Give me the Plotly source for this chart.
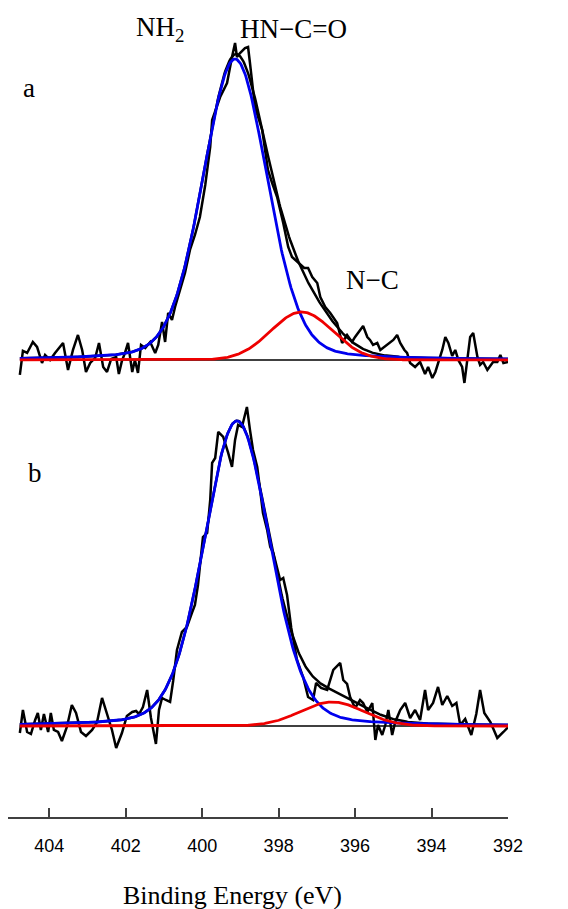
import numpy as np
import plotly.graph_objects as go

# N 1s spectra, background subtracted: binding energy (eV) and intensity (a.u.)
energy_a = [404.77, 404.69, 404.58, 404.43, 404.32, 404.19, 404.11, 403.98, 403.85, 403.64,
            403.51, 403.38, 403.25, 403.14, 403.04, 402.93, 402.80, 402.70, 402.59, 402.49,
            402.38, 402.25, 402.18, 402.10, 402.02, 401.94, 401.83, 401.76, 401.68, 401.60,
            401.49, 401.36, 401.23, 401.15, 401.05, 400.97, 400.89, 400.79, 400.71, 400.63,
            400.53, 400.45, 400.32, 400.19, 400.06, 399.92, 399.79, 399.74, 399.53, 399.35,
            399.22, 399.14, 399.09, 399.01, 398.88, 398.80, 398.75, 398.62, 398.43, 398.28,
            398.17, 398.04, 397.88, 397.75, 397.65, 397.54, 397.44, 397.33, 397.23, 397.12,
            396.99, 396.91, 396.78, 396.65, 396.47, 396.34, 396.21, 396.08, 396.00, 395.87,
            395.79, 395.68, 395.61, 395.53, 395.42, 395.34, 395.16, 395.00, 394.90, 394.82,
            394.71, 394.64, 394.56, 394.43, 394.30, 394.17, 394.09, 393.98, 393.90, 393.83,
            393.72, 393.64, 393.56, 393.46, 393.38, 393.30, 393.20, 393.14, 393.07, 392.99,
            392.91, 392.80, 392.73, 392.65, 392.54, 392.46, 392.39, 392.28, 392.20, 392.12,
            391.99]
counts_a = [-15, 9, 7, 18, 13, -3, 5, 0, 7, 17,
            -10, 10, 25, 10, -12, -3, 2, 17, -7, -12,
            1, 3, -14, -1, 7, 17, -12, 0, -13, 15,
            12, 18, 7, 15, 38, 18, 47, 40, 53, 63,
            77, 87, 110, 125, 143, 175, 213, 240, 263, 277,
            303, 317, 303, 307, 312, 313, 297, 253, 230, 190,
            177, 163, 137, 113, 103, 99, 95, 92, 92, 83,
            77, 63, 53, 47, 37, 17, 25, 18, 23, 30,
            34, 23, 20, 15, 17, 10, 15, 20, 25, 17,
            10, 7, -3, -7, -2, -14, -7, -18, -12, -3,
            10, 23, 17, 4, 10, 0, -7, -23, -3, 23,
            27, 3, -5, -2, -10, -5, -2, -2, 5, -3,
            -2]

energy_b = [404.77, 404.69, 404.58, 404.48, 404.37, 404.30, 404.22, 404.14, 404.03, 403.96,
            403.88, 403.77, 403.67, 403.54, 403.41, 403.30, 403.17, 403.04, 402.88, 402.75,
            402.62, 402.49, 402.36, 402.25, 402.10, 401.97, 401.83, 401.73, 401.65, 401.55,
            401.44, 401.34, 401.21, 401.13, 401.05, 400.95, 400.84, 400.76, 400.66, 400.53,
            400.40, 400.27, 400.19, 400.11, 399.98, 399.87, 399.79, 399.74, 399.66, 399.58,
            399.45, 399.32, 399.22, 399.14, 399.06, 398.96, 398.88, 398.83, 398.75, 398.67,
            398.56, 398.48, 398.41, 398.30, 398.22, 398.14, 398.04, 397.96, 397.88, 397.78,
            397.67, 397.52, 397.36, 397.23, 397.10, 397.02, 396.89, 396.73, 396.57, 396.39,
            396.31, 396.21, 396.13, 396.00, 395.87, 395.79, 395.68, 395.55, 395.47, 395.40,
            395.29, 395.21, 395.13, 395.03, 394.95, 394.82, 394.69, 394.56, 394.43, 394.30,
            394.17, 394.09, 393.96, 393.83, 393.72, 393.59, 393.46, 393.35, 393.25, 393.12,
            392.96, 392.83, 392.73, 392.62, 392.46, 392.28, 392.12, 391.97]
counts_b = [-7, 16, -6, -8, 6, 13, -4, 12, -6, 13,
            -4, -6, -15, -1, 21, 13, -6, -10, -4, 4,
            28, 11, -4, -22, -7, 10, 14, 15, 12, 19,
            36, 8, -18, 16, 28, 26, 24, 45, 76, 94,
            99, 113, 121, 141, 189, 193, 226, 263, 268, 294,
            289, 273, 259, 286, 301, 299, 311, 319, 296, 276,
            259, 233, 213, 196, 179, 173, 159, 146, 148, 131,
            98, 66, 49, 29, 26, 43, 38, 36, 56, 63,
            46, 42, 29, 18, 26, 23, 14, 23, -14, 1,
            -9, 1, 16, -9, 4, 16, 23, 8, 16, 6,
            36, 16, 23, 39, 21, 30, 20, 23, 1, 7,
            -9, 12, 36, 13, 4, -12, -6, 0]

# Fitted components: centre (eV), height (a.u.), FWHM (eV), Lorentzian fraction
nh2_a = (399.14, 301, 1.99, 0.18)
nc_a = (397.40, 48, 1.90, 0.0)
nh2_b = (399.09, 305, 2.04, 0.18)
nc_b = (396.60, 24, 1.95, 0.0)

tick_values = [404, 402, 400, 398, 396, 394, 392]


def gl_peak(e, centre, height, fwhm, lor):
    """Gaussian-Lorentzian (pseudo-Voigt) line shape."""
    u = (e - centre) / (fwhm / 2.0)
    return height * ((1 - lor) * np.exp(-np.log(2) * u ** 2) + lor / (1 + u ** 2))


SERIF = "Liberation Serif, Times New Roman, serif"
SANS = "Liberation Sans, Arial, sans-serif"

fig = go.Figure()


def add_panel(energy, counts, main, minor, yref):
    grid = np.linspace(max(energy), min(energy), 500)
    comp1 = gl_peak(grid, *main)
    comp2 = gl_peak(grid, *minor)
    # zero baseline
    fig.add_trace(go.Scatter(x=[grid[0], grid[-1]], y=[0, 0], mode="lines",
                             line=dict(color="#000000", width=1.5), yaxis=yref))
    # measured spectrum
    fig.add_trace(go.Scatter(x=energy, y=counts, mode="lines",
                             line=dict(color="#000000", width=2.5), yaxis=yref))
    # fit envelope
    fig.add_trace(go.Scatter(x=grid, y=comp1 + comp2, mode="lines",
                             line=dict(color="#000000", width=2.5), yaxis=yref))
    fig.add_trace(go.Scatter(x=grid, y=comp1, mode="lines",
                             line=dict(color="#0000ee", width=2.8), yaxis=yref))
    fig.add_trace(go.Scatter(x=grid, y=comp2, mode="lines",
                             line=dict(color="#ee0000", width=2.8), yaxis=yref))


add_panel(energy_a, counts_a, nh2_a, nc_a, "y2")
add_panel(energy_b, counts_b, nh2_b, nc_b, "y")

label_font = dict(family=SERIF, size=27, color="#000000")
annotations = [
    dict(text="NH<sub>2</sub>", x=0.252, y=0.977, xanchor="left", yanchor="middle"),
    dict(text="HN\u2212C=O", x=0.460, y=0.977, xanchor="left", yanchor="middle"),
    dict(text="N\u2212C", x=0.672, y=0.665, xanchor="left", yanchor="middle"),
    dict(text="a", x=0.026, y=0.903, xanchor="left", yanchor="middle"),
    dict(text="b", x=0.036, y=0.426, xanchor="left", yanchor="middle"),
    dict(text="Binding Energy (eV)", x=0.448, y=-0.097, xanchor="center", yanchor="middle",
         font=dict(family=SERIF, size=26, color="#000000")),
]
for a in annotations:
    a.setdefault("font", label_font)
    a.update(xref="paper", yref="paper", showarrow=False)

fig.update_layout(
    width=568, height=909,
    margin=dict(l=8, r=60, t=10, b=92),
    paper_bgcolor="white", plot_bgcolor="white",
    showlegend=False,
    xaxis=dict(range=[405.08, 392], tickvals=tick_values,
               ticktext=[str(v) for v in tick_values],
               showline=True, linecolor="#404040", linewidth=1.5,
               ticks="inside", ticklen=9, tickwidth=1.5, tickcolor="#404040",
               tickfont=dict(family=SANS, size=18, color="#000000"),
               ticklabelstandoff=12,
               showgrid=False, zeroline=False),
    yaxis=dict(domain=[0, 0.52], range=[-91, 328.6], visible=False),
    yaxis2=dict(domain=[0.52, 1], range=[-37.4, 350], visible=False, anchor="x"),
    annotations=annotations,
)

fig.write_html("out.html")
